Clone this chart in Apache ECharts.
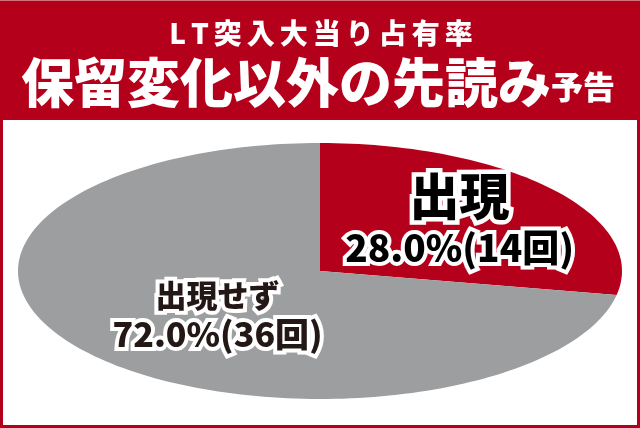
<!DOCTYPE html>
<html>
<head>
<meta charset="utf-8">
<script src="https://cdn.jsdelivr.net/npm/echarts@6/dist/echarts.min.js"></script>
<style>
  html, body { margin: 0; padding: 0; background: #b5001b; }
  #main { width: 640px; height: 428px; }
</style>
</head>
<body>
<div id="main"></div>
<script>
// chart data
var titleTop = 'LT突入大当り占有率';
var titleMain = '保留変化以外の先読み';
var titleSmall = '予告';
var sliceNames = ['出現', '出現せず'];
var sliceCounts = [14, 36];

// styling
var RED = '#b5001b';
var sliceColors = [RED, '#9d9e9f'];
var labelRadius = [0.6, 0.44];
var labelShiftY = [-2, 8];
var FONT = '"Noto Sans CJK JP", "Noto Sans", sans-serif';

var total = sliceCounts.reduce(function (a, b) { return a + b; }, 0);

function spaced(str) {
  return str.split('').map(function (ch) { return '{c|' + ch + '}'; }).join('');
}

var labelRich = [
  {
    big: { fill: '#000', fontSize: 50, fontWeight: 900, fontFamily: FONT, lineHeight: 56, stroke: '#fff', lineWidth: 9 },
    pct: { fill: '#000', fontSize: 37, fontWeight: 900, fontFamily: FONT, lineHeight: 48, stroke: '#fff', lineWidth: 8 }
  },
  {
    big: { fill: '#231815', fontSize: 31, fontWeight: 900, fontFamily: FONT, lineHeight: 38, stroke: '#fff', lineWidth: 8 },
    pct: { fill: '#231815', fontSize: 34, fontWeight: 900, fontFamily: FONT, lineHeight: 40, stroke: '#fff', lineWidth: 8 }
  }
];

function renderSlice(params, api) {
  var idx = params.dataIndex;
  var count = api.value(2);
  var before = 0;
  for (var i = 0; i < idx; i++) before += sliceCounts[i];
  var start = before / total;
  var frac = count / total;

  var pts = [api.coord([0, 0])];
  var n = Math.max(2, Math.ceil(frac * 240));
  for (var k = 0; k <= n; k++) {
    var t = 2 * Math.PI * (start + frac * k / n);
    pts.push(api.coord([Math.sin(t), Math.cos(t)]));
  }

  var mid = 2 * Math.PI * (start + frac / 2);
  var r = labelRadius[idx];
  var p = api.coord([r * Math.sin(mid), r * Math.cos(mid)]);
  var pctText = (frac * 100).toFixed(1) + '%(' + count + '回)';

  return {
    type: 'group',
    children: [
      {
        type: 'polygon',
        shape: { points: pts },
        style: { fill: sliceColors[idx], stroke: null }
      },
      {
        type: 'text',
        z2: 10,
        style: {
          x: p[0],
          y: p[1] + labelShiftY[idx],
          text: '{big|' + sliceNames[idx] + '}\n{pct|' + pctText + '}',
          align: 'center',
          verticalAlign: 'middle',
          textAlign: 'center',
          textVerticalAlign: 'middle',
          rich: labelRich[idx]
        }
      }
    ]
  };
}

var myChart = echarts.init(document.getElementById('main'));

var option = {
  backgroundColor: RED,
  animation: false,
  grid: { left: 18, right: 18, top: 143, bottom: 29 },
  xAxis: { type: 'value', min: -1, max: 1, show: false },
  yAxis: { type: 'value', min: -1, max: 1, show: false },
  graphic: [
    { type: 'rect', z: 0, shape: { x: 0, y: 0, width: 640, height: 1 }, style: { fill: '#d2707c' } },
    { type: 'rect', z: 0, shape: { x: 3, y: 120, width: 634, height: 305 }, style: { fill: '#fff' } },
    {
      type: 'text', z: 10,
      style: {
        x: 321, y: 33,
        text: spaced(titleTop),
        align: 'center', verticalAlign: 'middle',
        textAlign: 'center', textVerticalAlign: 'middle',
        rich: { c: { fill: '#fff', fontSize: 28, fontWeight: 900, fontFamily: FONT, padding: [0, 2.5] } }
      }
    },
    {
      type: 'text', z: 10,
      style: {
        x: 318, y: 83,
        text: '{m|' + titleMain + '}{s|' + titleSmall + '}',
        align: 'center', verticalAlign: 'middle',
        textAlign: 'center', textVerticalAlign: 'middle',
        rich: {
          m: { fill: '#fff', fontSize: 53, fontWeight: 900, fontFamily: FONT, lineHeight: 60 },
          s: { fill: '#fff', fontSize: 32, fontWeight: 900, fontFamily: FONT, lineHeight: 60, padding: [8, 0, 0, 0] }
        }
      }
    }
  ],
  series: [
    {
      type: 'custom',
      coordinateSystem: 'cartesian2d',
      renderItem: renderSlice,
      encode: { x: 0, y: 1 },
      data: sliceCounts.map(function (v, i) {
        return { name: sliceNames[i], value: [0, 0, v] };
      })
    }
  ]
};

myChart.setOption(option);
</script>
</body>
</html>
